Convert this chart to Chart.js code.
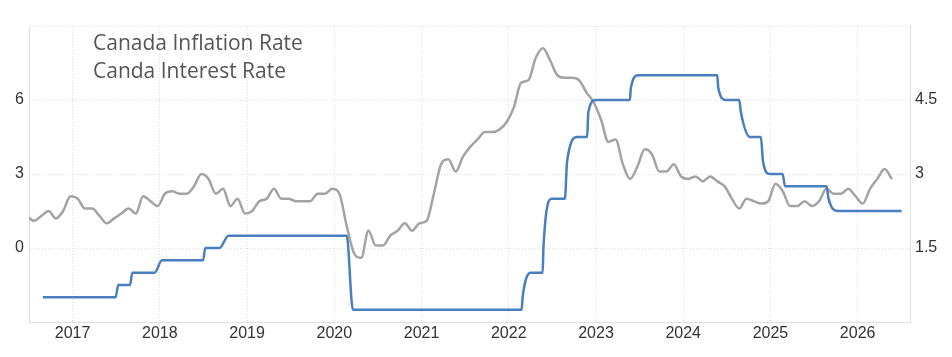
<!DOCTYPE html>
<html>
<head>
<meta charset="utf-8">
<script src="https://cdn.jsdelivr.net/npm/chart.js@4.4.0/dist/chart.umd.min.js"></script>
<style>
  html, body { margin: 0; padding: 0; background: #fff; }
  #wrap { width: 952px; height: 357px; }
</style>
</head>
<body>
<div id="wrap"><canvas id="chart" width="952" height="357"></canvas></div>
<script>
const seriesNames = ["Canada Inflation Rate", "Canda Interest Rate"];

const yearTicks = [2017, 2018, 2019, 2020, 2021, 2022, 2023, 2024, 2025, 2026];
const leftTicks = [-3, 0, 3, 6, 9];
const leftLabels = [0, 3, 6];
const rightTicks = [0, 1.5, 3, 4.5, 6];
const rightLabels = [1.5, 3, 4.5];

// inflation, one value per month starting Jul 2016
const cpiStart = [2016, 7];
const cpiValues = [
  1.3, 1.1, 1.3, 1.5, 1.2, 1.5,
  2.1, 2.0, 1.6, 1.6, 1.3, 1.0, 1.2, 1.4, 1.6, 1.4, 2.1, 1.9,
  1.7, 2.2, 2.3, 2.2, 2.2, 2.5, 3.0, 2.8, 2.2, 2.4, 1.7, 2.0,
  1.4, 1.5, 1.9, 2.0, 2.4, 2.0, 2.0, 1.9, 1.9, 1.9, 2.2, 2.2,
  2.4, 2.2, 0.9, -0.2, -0.4, 0.7, 0.1, 0.1, 0.5, 0.7, 1.0, 0.7,
  1.0, 1.1, 2.2, 3.4, 3.6, 3.1, 3.7, 4.1, 4.4, 4.7, 4.7, 4.8,
  5.1, 5.7, 6.7, 6.8, 7.7, 8.1, 7.6, 7.0, 6.9, 6.9, 6.8, 6.3,
  5.9, 5.2, 4.3, 4.4, 3.4, 2.8, 3.3, 4.0, 3.8, 3.1, 3.1, 3.4,
  2.9, 2.8, 2.9, 2.7, 2.9, 2.7, 2.5, 2.0, 1.6, 2.0, 1.9, 1.8,
  1.9, 2.6, 2.3, 1.7, 1.7, 1.9, 1.7, 1.9, 2.4, 2.2, 2.2, 2.4,
  2.1, 1.8, 2.4, 2.8, 3.2, 2.8
];
// the source plots each month a few days before its 1st
const monthShift = 0.025;

// interest rate, start/end of each level
const rateDates = [
  "2016-08-29", "2017-06-30", "2017-07-11", "2017-08-29", "2017-09-08",
  "2017-12-10", "2018-01-10", "2018-07-01", "2018-07-10", "2018-09-08",
  "2018-10-15", "2020-02-22", "2020-03-19", "2022-02-24", "2022-02-28",
  "2022-04-03", "2022-05-23", "2022-05-26", "2022-06-30", "2022-08-24",
  "2022-09-02", "2022-10-15", "2022-11-25", "2022-11-30", "2022-12-31",
  "2023-05-23", "2023-05-27", "2023-06-27", "2024-05-23", "2024-05-27",
  "2024-06-28", "2024-08-23", "2024-08-30", "2024-10-07", "2024-11-22",
  "2024-12-01", "2024-12-30", "2025-02-21", "2025-03-03", "2025-08-24",
  "2025-09-01", "2025-10-12", "2026-07-04"
];
const rateValues = [
  0.5, 0.5, 0.75, 0.75, 1.0,
  1.0, 1.25, 1.25, 1.5, 1.5,
  1.75, 1.75, 0.25, 0.25, 0.5,
  1.0, 1.0, 1.5, 2.5, 2.5,
  3.25, 3.75, 3.75, 4.25, 4.5,
  4.5, 4.75, 5.0, 5.0, 4.75,
  4.5, 4.5, 4.25, 3.75, 3.75,
  3.25, 3.0, 3.0, 2.75, 2.75,
  2.5, 2.25, 2.25
];

function decimalYear(str) {
  const [y, m, d] = str.split("-").map(Number);
  const start = Date.UTC(y, 0, 1);
  const len = Date.UTC(y + 1, 0, 1) - start;
  return y + (Date.UTC(y, m - 1, d) - start) / len;
}

const cpiPoints = cpiValues.map((v, i) => ({
  x: cpiStart[0] + (cpiStart[1] - 1 + i) / 12 - monthShift,
  y: v,
}));
const ratePoints = rateDates.map((d, i) => ({ x: decimalYear(d), y: rateValues[i] }));

const tickFont = { family: '"Liberation Sans", Arial, sans-serif', size: 16 };
const gridColor = "#dcdcdc";

const legendText = {
  id: "legendText",
  afterDraw(chart) {
    const ctx = chart.ctx;
    ctx.save();
    ctx.font = '21px "Open Sans", sans-serif';
    ctx.fillStyle = "#555";
    ctx.textBaseline = "alphabetic";
    chart.data.datasets.forEach((ds, i) => {
      ctx.fillText(ds.label, 93, 50 + i * 28);
    });
    ctx.restore();
  },
};

new Chart(document.getElementById("chart"), {
  type: "line",
  data: {
    datasets: [
      {
        label: seriesNames[0],
        data: cpiPoints,
        yAxisID: "y",
        borderColor: "#a3a3a3",
        borderWidth: 2.5,
        pointRadius: 0,
        cubicInterpolationMode: "monotone",
        order: 2,
      },
      {
        label: seriesNames[1],
        data: ratePoints,
        yAxisID: "y1",
        borderColor: "#4a7ebf",
        borderWidth: 2.5,
        pointRadius: 0,
        cubicInterpolationMode: "monotone",
        order: 1,
      },
    ],
  },
  options: {
    responsive: false,
    devicePixelRatio: 1,
    animation: false,
    layout: { padding: { top: 26, left: 0, right: 0, bottom: 0 } },
    plugins: { legend: { display: false }, tooltip: { enabled: false } },
    scales: {
      x: {
        type: "linear",
        min: 2016.5,
        max: 2026.6,
        afterBuildTicks: (s) => { s.ticks = yearTicks.map((v) => ({ value: v })); },
        afterFit: (s) => { s.height = 35; },
        grid: { color: gridColor, drawTicks: false },
        border: { color: "#e0e0e0", dash: [1, 2] },
        ticks: {
          font: tickFont,
          color: "#333",
          padding: 2,
          maxRotation: 0,
          callback: (v) => String(v),
        },
      },
      y: {
        position: "left",
        min: -3,
        max: 9,
        afterBuildTicks: (s) => { s.ticks = leftTicks.map((v) => ({ value: v })); },
        afterFit: (s) => { s.width = 29; },
        grid: { color: gridColor, drawTicks: false },
        border: { color: "#e0e0e0", dash: [1, 2] },
        ticks: {
          font: tickFont,
          color: "#333",
          padding: 5,
          callback: (v) => (leftLabels.includes(v) ? String(v) : ""),
        },
      },
      y1: {
        position: "right",
        min: 0,
        max: 6,
        afterBuildTicks: (s) => { s.ticks = rightTicks.map((v) => ({ value: v })); },
        afterFit: (s) => { s.width = 42; },
        grid: { drawOnChartArea: false, drawTicks: false },
        border: { color: "#e0e0e0" },
        ticks: {
          font: tickFont,
          color: "#333",
          padding: 5,
          callback: (v) => (rightLabels.includes(v) ? String(v) : ""),
        },
      },
    },
  },
  plugins: [legendText],
});
</script>
</body>
</html>
